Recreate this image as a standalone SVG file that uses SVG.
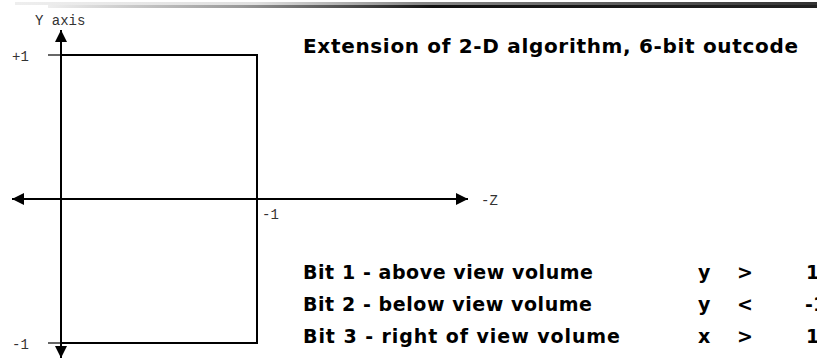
<svg xmlns="http://www.w3.org/2000/svg" width="817" height="362" viewBox="0 0 817 362">
<defs>
<linearGradient id="g1" x1="0" y1="0" x2="1" y2="0">
<stop offset="0" stop-color="#eeeeee"/>
<stop offset="0.3" stop-color="#e0e0e0"/>
<stop offset="0.5" stop-color="#888888"/>
<stop offset="1" stop-color="#333333"/>
</linearGradient>
<linearGradient id="g2" x1="0" y1="0" x2="1" y2="0">
<stop offset="0" stop-color="#eeeeee"/>
<stop offset="0.25" stop-color="#999999"/>
<stop offset="0.5" stop-color="#111111"/>
<stop offset="1" stop-color="#222222"/>
</linearGradient>
<marker id="ah" viewBox="0 0 10 10" refX="10" refY="5" markerWidth="12" markerHeight="12" markerUnits="userSpaceOnUse" orient="auto">
<path d="M0,0 L10,5 L0,10 Z" fill="#000"/>
</marker>
<style>
.ax{stroke:#000;stroke-width:2;fill:none}
.tk{stroke:#000;stroke-width:1.2}
.sm{font-family:"Liberation Mono",monospace;font-size:14px;fill:#333}
.big{font-family:"DejaVu Sans","Liberation Sans",sans-serif;font-weight:bold;fill:#000}
</style>
</defs>
<rect x="15" y="2" width="802" height="3" fill="url(#g1)"/>
<rect x="48" y="5" width="769" height="3" fill="url(#g2)"/>
<g id="connectors">
<line class="ax" x1="61" y1="358" x2="61" y2="30" marker-end="url(#ah)"/>
<line class="ax" x1="61" y1="199" x2="61" y2="358" marker-end="url(#ah)"/>
<line class="ax" x1="61" y1="199" x2="12" y2="199" marker-end="url(#ah)"/>
<line class="ax" x1="61" y1="199" x2="468" y2="199" marker-end="url(#ah)"/>
<line class="tk" x1="48" y1="55" x2="70" y2="55"/>
<line class="tk" x1="48" y1="343" x2="70" y2="343"/>
</g>
<g id="volume">
<polyline class="ax" points="61,55 257,55 257,343 61,343"/>
</g>
<g id="labels">
<text class="sm" x="35" y="25">Y axis</text>
<text class="sm" x="12" y="61">+1</text>
<text class="sm" x="12" y="349">-1</text>
<text class="sm" x="262" y="219">-1</text>
<text class="sm" x="481" y="205">-Z</text>
</g>
<g id="text">
<text class="big" x="303" y="53" font-size="20" textLength="495">Extension of 2-D algorithm,  6-bit outcode</text>
<text class="big" x="303" y="279" font-size="19" textLength="290">Bit 1 - above view volume</text>
<text class="big" x="303" y="311" font-size="19" textLength="289">Bit 2 - below view volume</text>
<text class="big" x="303" y="343" font-size="19" textLength="317">Bit 3 - right of view volume</text>
<text class="big" y="279" font-size="19"><tspan x="698">y</tspan><tspan x="737">&gt;</tspan><tspan x="806">1</tspan></text>
<text class="big" y="311" font-size="19"><tspan x="698">y</tspan><tspan x="737">&lt;</tspan><tspan x="805">-1</tspan></text>
<text class="big" y="343" font-size="19"><tspan x="698">x</tspan><tspan x="737">&gt;</tspan><tspan x="806">1</tspan></text>
</g>
</svg>
